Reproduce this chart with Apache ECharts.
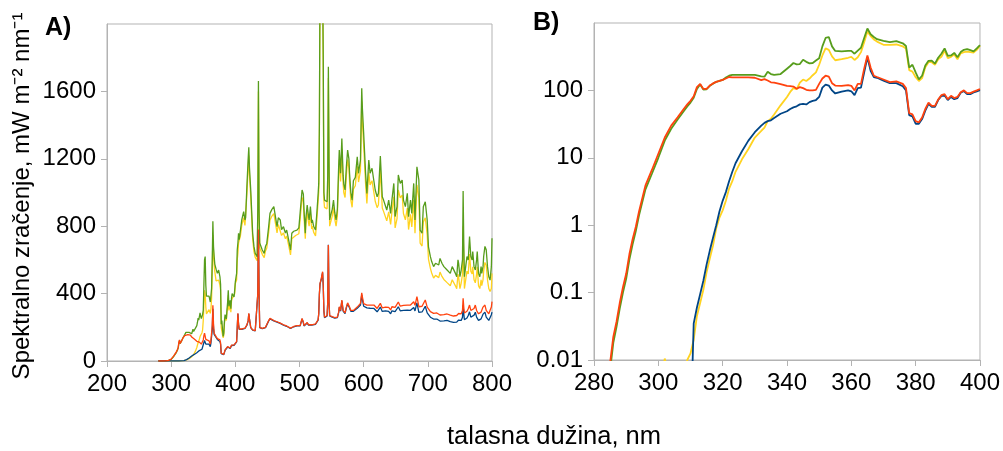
<!DOCTYPE html>
<html><head><meta charset="utf-8">
<script src="https://cdn.jsdelivr.net/npm/echarts@6/dist/echarts.min.js"></script>
<style>html,body{margin:0;padding:0;background:#fff}#c{width:1003px;height:451px}</style>
</head><body><div id="c"></div>
<script>
// wavelength (nm)
const wavelengths = [
280,282,284,285,286,287,288,289,290,291,
292,293,294,296,298,300,302,304,306,308,
309,310,311,312,313,314,315,316,317,318,
319,320,321,322,323,324,326,328,330,332,
333,334,335,336,338,340,341,342,343,344,
345,346,347,348,349,350,351,352,353,354,
355,357,359,360,361,362,363,364,365,366,
367,368,370,372,374,376,377,378,379,380,
381,382,383,384,385,386,387,388,389,390,
391,392,393,394,395,396,397,398,399,400,
402,403,404,405,406,408,410,413,415,416,
418,420,421,422,424,427,429,431,434,435,
436,437,438,440,442,445,447,449,452,454,
457,460,462,465,467,470,472,475,478,480,
483,486,488,491,494,496,499,501,504,506,
507,509,510,512,514,515,517,519,520,522,
525,527,529,530,531,532,534,536,537,538,
539,541,543,544,545,546,547,549,551,553,
555,557,559,561,562,564,566,568,569,571,
573,575,577,578,580,582,584,587,590,592,
595,597,598,600,603,605,608,610,613,616,
618,621,623,626,629,631,634,636,639,642,
644,647,649,652,654,657,660,662,665,668,
670,673,675,678,680,683,686,688,691,693,
696,699,701,704,706,709,712,714,717,719,
722,725,728,730,733,735,738,740,743,745,
747,748,750,752,754,755,756,757,759,761,
763,765,767,769,770,772,774,776,777,779,
781,783,784,786,787,789,791,793,795,797,
799,800];

// spectral irradiance, mW m-2 nm-1
const greenSeries = [
0.0003,0.0008,0.003,0.007,0.018,0.031,0.058,0.10,0.16,0.31,
0.52,0.82,1.4,3.4,5.8,10,18,27,37,50,
58,66,78,105,122,103,104,117,126,134,
138,143,155,165,170,170,170,170,170,162,
160,189,175,170,175,210,230,255,243,246,
285,265,252,255,277,300,450,600,620,450,
385,380,385,385,350,390,430,600,830,680,
620,575,545,520,540,500,455,218,240,185,
146,165,234,275,277,250,305,350,420,325,
330,360,310,370,400,410,395,380,420,470,
520,660,700,758,720,777,837,886,837,850,
1034,1200,1268,1150,1015,758,680,639,619,900,
1662,900,700,680,659,639,680,698,800,876,
900,916,905,797,850,837,780,797,760,777,
720,659,758,770,780,777,790,797,1015,990,
900,758,850,926,860,837,916,820,837,800,
777,877,990,1054,1400,2300,2300,2300,1800,1000,
955,955,945,1100,1746,1200,837,870,900,955,
880,837,900,1150,1252,1114,1321,1100,1050,1015,
1150,1252,1200,1114,1000,955,1070,1090,1212,1114,
1193,1618,1500,1351,1114,995,1193,1114,1144,1134,
1015,975,995,1216,975,955,955,896,955,876,
955,1054,857,916,1104,1054,1074,955,916,995,
857,955,876,1054,837,1153,1074,777,758,916,
945,837,678,619,590,560,580,580,570,609,
580,560,555,540,540,520,560,560,520,500,
600,580,500,540,600,1009,700,500,560,620,
600,738,620,600,650,560,540,600,650,520,
500,560,520,560,620,680,660,560,500,480,
560,728];

const yellowSeries = [
0.0003,0.0003,0.0003,0.0003,0.0003,0.0003,0.0003,0.0003,0.0003,0.0003,
0.0003,0.0003,0.0004,0.0005,0.001,0.003,0.0105,0.004,0.003,0.006,
0.01,0.0125,0.02,0.045,0.07,0.11,0.2,0.32,0.5,0.9,
1.3,1.66,2.3,3.5,4.5,6.2,9.5,13.5,20,25,
28,35,38,44,60,80,95,108,104,130,
145,138,150,168,185,240,330,420,400,320,
280,290,305,315,283,310,370,520,747,640,
570,530,475,475,480,450,420,200,190,157,
138,152,220,262,262,240,290,315,390,300,
315,340,290,355,370,375,370,365,400,460,
480,600,640,700,690,745,805,850,805,815,
990,1150,1220,1105,975,728,650,615,595,865,
1600,865,672,653,633,613,653,670,765,835,
860,875,865,760,810,800,745,760,725,742,
688,630,725,735,745,742,755,760,970,945,
860,725,812,885,822,800,875,783,800,765,
742,838,945,1005,1340,2250,2250,2250,1720,955,
912,912,903,1050,1680,1150,800,830,860,912,
840,800,860,1100,1195,1065,1260,1050,1000,970,
1100,1195,1145,1064,955,912,1020,1040,1155,1062,
1130,1540,1420,1280,1050,935,1120,1045,1070,1060,
948,910,928,1135,908,888,888,832,885,810,
883,975,790,845,1015,968,985,875,838,908,
780,870,795,955,758,1045,970,700,682,825,
850,750,605,550,522,492,508,505,495,528,
502,484,478,465,464,447,482,481,446,429,
515,498,429,463,515,800,600,430,482,533,
516,635,533,516,559,482,464,516,559,447,
430,482,447,482,533,585,568,482,430,413,
430,520];

const redSeries = [
0.0005,0.001,0.004,0.009,0.022,0.037,0.07,0.12,0.19,0.37,
0.62,0.95,1.6,3.9,6.6,11.5,20,30,40,54,
62,70,82,112,125,105,105,118,127,134,
138,143,150,158,156,156,156,156,154,142,
147,140,132,130,124,117,116,114,106,112,
108,102,100,100,102,125,150,165,160,128,
118,117,120,117,100,125,125,210,330,218,
165,158,145,133,136,125,108,46,44,35,
33.6,39.5,53,66,59,59,73,85,88,74,
83,77,80,94,100,91,91,96,100,105,
115,200,283,220,190,184,190,200,195,200,
214,240,283,250,200,185,174,180,190,400,
780,400,200,190,194,194,200,210,240,253,
245,240,240,233,230,225,220,215,212,208,
205,195,200,205,207,210,210,210,253,230,
210,205,215,228,215,212,210,215,218,218,
220,223,245,283,400,461,490,530,450,300,
260,255,270,350,688,350,270,265,263,265,
258,255,260,290,322,300,362,300,290,285,
320,345,352,320,300,300,300,305,320,315,
342,405,380,340,330,332,335,332,330,332,
325,312,318,342,315,312,320,316,318,303,
322,332,318,320,350,325,332,330,322,332,
322,332,330,352,330,382,322,330,325,340,
362,320,310,293,290,283,280,285,278,273,
278,275,274,279,270,272,276,267,270,270,
276,282,272,280,300,372,320,285,290,295,
310,332,300,290,305,312,332,300,310,280,
285,290,297,320,315,332,300,290,280,290,
320,352];

const blueSeries = [
0.0001,0.0001,0.0001,0.0001,0.0001,0.0001,0.0001,0.0001,0.0001,0.0001,
0.0001,0.0001,0.0001,0.0001,0.0001,0.0002,0.0002,0.0003,0.0003,0.0004,
0.0005,0.0008,0.035,0.06,0.095,0.15,0.26,0.42,0.65,1.0,
1.6,2.3,3.1,4.5,6.2,8.3,12.5,18,24,30,
33,35,36,39,45,49,53,56,58,62,
63,62,67,70,72,80,110,122,118,100,
90,96,100,97,85,108,110,185,310,195,
158,154,140,128,128,115,100,43,41,32,
32,37.5,50,63,57,57,72,83,84,72,
80,74,77,92,98,88,88,93,97,101,
113,198,280,218,188,182,188,198,193,198,
212,238,280,248,198,183,172,178,188,398,
775,398,198,188,192,192,198,208,238,250,
243,238,238,231,228,223,218,213,210,206,
203,193,198,203,205,208,208,208,250,228,
208,203,213,226,213,210,208,213,216,216,
218,221,243,280,396,457,486,525,446,297,
257,252,267,347,690,347,267,262,260,262,
255,252,257,287,318,296,357,296,286,281,
315,340,346,315,295,295,295,299,313,307,
332,392,366,325,314,315,317,313,311,312,
305,292,297,320,294,291,298,294,295,280,
298,307,293,294,322,298,304,301,293,302,
292,301,298,318,297,345,289,296,291,304,
325,286,276,260,256,249,245,249,242,237,
241,238,237,241,232,234,238,229,231,231,
237,243,233,241,260,330,280,245,250,255,
270,292,260,250,265,272,290,260,270,241,
245,250,257,278,274,290,260,250,241,250,
275,290];

const seriesDefs = [
  {name: 'yellow', values: yellowSeries, color: '#ffd320'},
  {name: 'green', values: greenSeries, color: '#579d1c'},
  {name: 'blue', values: blueSeries, color: '#004586'},
  {name: 'red', values: redSeries, color: '#ff420e'}
];

const panelATicksY = [0, 400, 800, 1200, 1600];
const panelBTicksY = [0.01, 0.1, 1, 10, 100];

const FONT = '"Liberation Sans", Arial, Helvetica, sans-serif';
const AX = '#b3b3b3';

function pairs(vals, maxWl) {
  const out = [];
  for (let i = 0; i < wavelengths.length; i++) {
    if (wavelengths[i] <= maxWl) out.push([wavelengths[i], vals[i]]);
  }
  return out;
}

const axisCommon = {
  axisLine: {show: true, lineStyle: {color: AX, width: 1}},
  axisTick: {show: true, length: 6, lineStyle: {color: AX, width: 1}},
  splitLine: {show: false},
  axisLabel: {color: '#000', fontSize: 24, fontFamily: FONT}
};

const series = [];
seriesDefs.forEach(s => {
  series.push({
    name: s.name + 'A', type: 'line', xAxisIndex: 0, yAxisIndex: 0,
    data: pairs(s.values, 800), showSymbol: false, symbol: 'none',
    lineStyle: {color: s.color, width: 1.3}, itemStyle: {color: s.color},
    clip: true, animation: false, silent: true
  });
  series.push({
    name: s.name + 'B', type: 'line', xAxisIndex: 1, yAxisIndex: 1,
    data: pairs(s.values, 400), showSymbol: false, symbol: 'none',
    lineStyle: {color: s.color, width: 1.8}, itemStyle: {color: s.color},
    clip: true, animation: false, silent: true
  });
});

const chart = echarts.init(document.getElementById('c'), null, {renderer: 'canvas'});
chart.setOption({
  animation: false,
  backgroundColor: '#fff',
  grid: [
    {left: 107, right: 511, top: 24, bottom: 90, show: true, borderColor: AX, borderWidth: 1, backgroundColor: 'transparent'},
    {left: 594, right: 23, top: 23, bottom: 91, show: true, borderColor: AX, borderWidth: 1, backgroundColor: 'transparent'}
  ],
  xAxis: [
    Object.assign({}, axisCommon, {type: 'value', gridIndex: 0, min: 200, max: 800, interval: 100,
      axisLabel: Object.assign({}, axisCommon.axisLabel, {margin: 11})}),
    Object.assign({}, axisCommon, {type: 'value', gridIndex: 1, min: 280, max: 400, interval: 20,
      axisLabel: Object.assign({}, axisCommon.axisLabel, {margin: 11})})
  ],
  yAxis: [
    Object.assign({}, axisCommon, {type: 'value', gridIndex: 0, min: 0, max: 2000, interval: 400,
      axisLabel: Object.assign({}, axisCommon.axisLabel, {margin: 11, showMaxLabel: false,
        formatter: v => panelATicksY.indexOf(v) >= 0 ? String(v) : ''})}),
    Object.assign({}, axisCommon, {type: 'log', logBase: 10, gridIndex: 1, min: 0.01, max: 1000,
      axisLabel: Object.assign({}, axisCommon.axisLabel, {margin: 11, showMaxLabel: false,
        formatter: v => {
          const r = +(+v).toPrecision(2);
          return panelBTicksY.indexOf(r) >= 0 ? String(r) : '';
        }})})
  ],
  graphic: [
    {type: 'text', left: 45, top: 16, style: {text: 'A)', font: 'bold 25px ' + FONT, fill: '#000'}},
    {type: 'text', left: 533, top: 11, style: {text: 'B)', font: 'bold 25px ' + FONT, fill: '#000'}},
    {type: 'text', x: 554, y: 437, style: {text: 'talasna dužina, nm', font: '25.5px ' + FONT, fill: '#000', align: 'center', verticalAlign: 'middle'}},
    {type: 'text', x: 22, y: 196, rotation: Math.PI / 2, style: {text: 'Spektralno zračenje, mW m⁻² nm⁻¹', font: '24px ' + FONT, fill: '#000', align: 'center', verticalAlign: 'middle'}}
  ],
  series: series
});
</script>
</body></html>
